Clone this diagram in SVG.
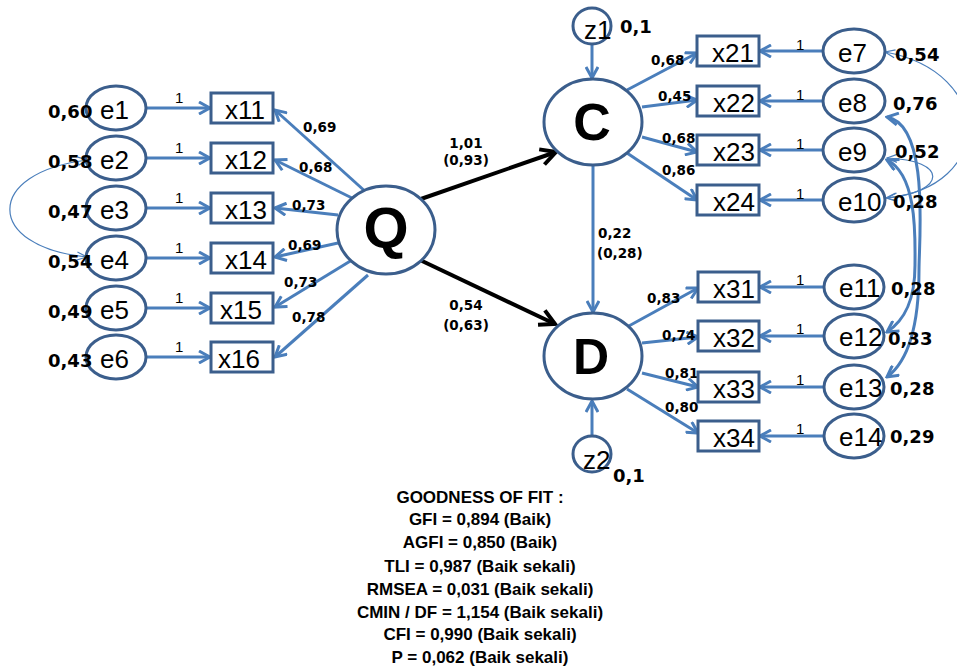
<svg xmlns="http://www.w3.org/2000/svg" width="957" height="667" viewBox="0 0 957 667">
<style>
.bg{fill:#fff}
.ell{fill:#fff;stroke:#3B5E8C;stroke-width:3}
.box{fill:#fff;stroke:#3B5E8C;stroke-width:3}
.ln{fill:none;stroke:#4A7EBB;stroke-width:3}
.thin{fill:none;stroke:#4A7EBB;stroke-width:1.2}
.blk{fill:none;stroke:#000;stroke-width:4}
text{font-family:"Liberation Sans",Arial,sans-serif;fill:#000}
.nm{font-size:26px}
.one{font-size:15px}
.w{font-family:"DejaVu Sans",sans-serif;font-size:13.5px;font-weight:bold}
.v{font-family:"DejaVu Sans",sans-serif;font-size:18px;font-weight:bold}
.big{font-weight:bold;text-anchor:middle}
.gof{font-size:17px;font-weight:bold;text-anchor:middle}
</style>
<defs>
<marker id="ab" viewBox="0 0 14 14" markerWidth="14" markerHeight="14" refX="12" refY="7" orient="auto-start-reverse" markerUnits="userSpaceOnUse"><path d="M1,1 L12,7 L1,13" fill="none" stroke="#4A7EBB" stroke-width="3"/></marker>
<marker id="at" viewBox="0 0 12 10" markerWidth="12" markerHeight="10" refX="11" refY="5" orient="auto-start-reverse" markerUnits="userSpaceOnUse"><path d="M1,1 L11,5 L1,9" fill="none" stroke="#4A7EBB" stroke-width="1.2"/></marker>
<marker id="ak" viewBox="0 0 20 20" markerWidth="20" markerHeight="20" refX="17" refY="10" orient="auto" markerUnits="userSpaceOnUse"><path d="M2,2 L17,10 L2,18" fill="none" stroke="#000" stroke-width="4"/></marker>
</defs>
<rect class="bg" x="0" y="0" width="957" height="667"/>

<g id="connectors">
<path class="ln" marker-end="url(#ab)" d="M146,108 H210"/>
<path class="ln" marker-end="url(#ab)" d="M146,158 H210"/>
<path class="ln" marker-end="url(#ab)" d="M146,208 H210"/>
<path class="ln" marker-end="url(#ab)" d="M146,258 H210"/>
<path class="ln" marker-end="url(#ab)" d="M146,308 H210"/>
<path class="ln" marker-end="url(#ab)" d="M146,357 H210"/>
<path class="ln" marker-end="url(#ab)" d="M367,193 L275,110"/>
<path class="ln" marker-end="url(#ab)" d="M352,198 L275,160"/>
<path class="ln" marker-end="url(#ab)" d="M338,215 L275,208"/>
<path class="ln" marker-end="url(#ab)" d="M338,243 L275,257"/>
<path class="ln" marker-end="url(#ab)" d="M352,260 L275,307"/>
<path class="ln" marker-end="url(#ab)" d="M368,275 L275,357"/>
<path class="blk" marker-end="url(#ak)" d="M418,200 L556,152"/>
<path class="blk" marker-end="url(#ak)" d="M420,260 L555,324"/>
<path class="ln" marker-end="url(#ab)" d="M593,165 V312"/>
<path class="ln" marker-end="url(#ab)" d="M592,44 V78"/>
<path class="ln" marker-end="url(#ab)" d="M592,436 V401"/>
<path class="ln" marker-end="url(#ab)" d="M627,90 L697,53"/>
<path class="ln" marker-end="url(#ab)" d="M642,107 L697,100"/>
<path class="ln" marker-end="url(#ab)" d="M642,137 L697,152"/>
<path class="ln" marker-end="url(#ab)" d="M627,153 L697,200"/>
<path class="ln" marker-end="url(#ab)" d="M627,327 L698,288"/>
<path class="ln" marker-end="url(#ab)" d="M642,343 L698,337"/>
<path class="ln" marker-end="url(#ab)" d="M642,373 L698,387"/>
<path class="ln" marker-end="url(#ab)" d="M627,389 L698,433"/>
<path class="ln" marker-end="url(#ab)" d="M823,51 H760"/>
<path class="ln" marker-end="url(#ab)" d="M823,101 H760"/>
<path class="ln" marker-end="url(#ab)" d="M823,150 H760"/>
<path class="ln" marker-end="url(#ab)" d="M823,200 H760"/>
<path class="ln" marker-end="url(#ab)" d="M824,287 H760"/>
<path class="ln" marker-end="url(#ab)" d="M824,336 H760"/>
<path class="ln" marker-end="url(#ab)" d="M824,387 H760"/>
<path class="ln" marker-end="url(#ab)" d="M824,436 H760"/>
<path class="thin" marker-start="url(#at)" marker-end="url(#at)" d="M88,160 C-16,172 -16,247 87,257"/>
<path class="thin" marker-start="url(#at)" marker-end="url(#at)" d="M885,52 C995,72 995,188 886,198"/>
<path class="thin" marker-start="url(#at)" marker-end="url(#at)" d="M887,158 C948,160 948,192 887,198"/>
<path class="ln" marker-start="url(#ab)" marker-end="url(#ab)" d="M887,117 C930,125 919,240 919,270 C919,320 910,360 887,377"/>
<path class="ln" marker-start="url(#ab)" marker-end="url(#ab)" d="M887,160 C918,175 915,240 915,265 C915,300 905,320 887,332"/>
</g>

<g id="e1"><ellipse class="ell" cx="116" cy="108" rx="30" ry="22"/><text class="nm" x="100" y="119">e1</text><text class="v" x="48" y="118">0,60</text></g>
<g id="e2"><ellipse class="ell" cx="116" cy="158" rx="30" ry="22"/><text class="nm" x="100" y="169">e2</text><text class="v" x="48" y="168">0,58</text></g>
<g id="e3"><ellipse class="ell" cx="116" cy="208" rx="30" ry="22"/><text class="nm" x="100" y="219">e3</text><text class="v" x="48" y="218">0,47</text></g>
<g id="e4"><ellipse class="ell" cx="116" cy="258" rx="30" ry="22"/><text class="nm" x="100" y="269">e4</text><text class="v" x="48" y="268">0,54</text></g>
<g id="e5"><ellipse class="ell" cx="116" cy="308" rx="30" ry="22"/><text class="nm" x="100" y="319">e5</text><text class="v" x="48" y="318">0,49</text></g>
<g id="e6"><ellipse class="ell" cx="116" cy="357" rx="30" ry="22"/><text class="nm" x="100" y="368">e6</text><text class="v" x="48" y="367">0,43</text></g>

<g id="ones">
<text class="one" x="175" y="103">1</text><text class="one" x="175" y="153">1</text><text class="one" x="175" y="203">1</text>
<text class="one" x="175" y="253">1</text><text class="one" x="175" y="303">1</text><text class="one" x="175" y="352">1</text>
<text class="one" x="796" y="50">1</text><text class="one" x="796" y="100">1</text><text class="one" x="796" y="149">1</text><text class="one" x="796" y="199">1</text>
<text class="one" x="796" y="285">1</text><text class="one" x="796" y="334">1</text><text class="one" x="796" y="385">1</text><text class="one" x="796" y="434">1</text>
</g>

<g id="x11"><rect class="box" x="211" y="93" width="62" height="30"/><text class="nm" x="225" y="119">x11</text></g>
<g id="x12"><rect class="box" x="211" y="143" width="62" height="30"/><text class="nm" x="225" y="169">x12</text></g>
<g id="x13"><rect class="box" x="211" y="193" width="62" height="30"/><text class="nm" x="225" y="219">x13</text></g>
<g id="x14"><rect class="box" x="211" y="243" width="62" height="30"/><text class="nm" x="225" y="269">x14</text></g>
<g id="x15"><rect class="box" x="211" y="293" width="62" height="30"/><text class="nm" x="220" y="319">x15</text></g>
<g id="x16"><rect class="box" x="211" y="342" width="62" height="30"/><text class="nm" x="218" y="368">x16</text></g>

<g id="wQ">
<text class="w" x="303" y="132">0,69</text>
<text class="w" x="299" y="172">0,68</text>
<text class="w" x="292" y="210">0,73</text>
<text class="w" x="288" y="250">0,69</text>
<text class="w" x="284" y="287">0,73</text>
<text class="w" x="292" y="322">0,78</text>
</g>

<g id="Q"><ellipse class="ell" cx="386" cy="230" rx="49" ry="44"/><text class="big" x="386" y="248" font-size="58">Q</text></g>
<g id="C"><ellipse class="ell" cx="593" cy="122" rx="49" ry="43"/><text class="big" x="592" y="140" font-size="52">C</text></g>
<g id="D"><ellipse class="ell" cx="593" cy="356" rx="49" ry="43"/><text class="big" x="591" y="374" font-size="50">D</text></g>
<g id="z1"><ellipse class="ell" cx="592" cy="26" rx="19" ry="18"/><text class="nm" x="584" y="39">z1</text><text class="v" x="620" y="33">0,1</text></g>
<g id="z2"><ellipse class="ell" cx="592" cy="454" rx="19" ry="18"/><text class="nm" x="583" y="469">z2</text><text class="v" x="613" y="482">0,1</text></g>

<g id="paths">
<text class="w" x="466" y="148" text-anchor="middle">1,01</text>
<text class="w" x="466" y="165" text-anchor="middle">(0,93)</text>
<text class="w" x="466" y="310" text-anchor="middle">0,54</text>
<text class="w" x="466" y="330" text-anchor="middle">(0,63)</text>
<text class="w" x="598" y="238">0,22</text>
<text class="w" x="597" y="258">(0,28)</text>
</g>

<g id="wC">
<text class="w" x="651" y="65">0,68</text>
<text class="w" x="658" y="101">0,45</text>
<text class="w" x="662" y="143">0,68</text>
<text class="w" x="662" y="175">0,86</text>
</g>
<g id="wD">
<text class="w" x="647" y="303">0,83</text>
<text class="w" x="662" y="340">0,74</text>
<text class="w" x="665" y="378">0,81</text>
<text class="w" x="665" y="412">0,80</text>
</g>

<g id="x21"><rect class="box" x="697" y="36" width="62" height="30"/><text class="nm" x="712" y="62">x21</text></g>
<g id="x22"><rect class="box" x="697" y="86" width="62" height="30"/><text class="nm" x="713" y="112">x22</text></g>
<g id="x23"><rect class="box" x="697" y="135" width="62" height="30"/><text class="nm" x="713" y="161">x23</text></g>
<g id="x24"><rect class="box" x="697" y="185" width="62" height="30"/><text class="nm" x="713" y="211">x24</text></g>
<g id="x31"><rect class="box" x="698" y="272" width="61" height="30"/><text class="nm" x="713" y="298">x31</text></g>
<g id="x32"><rect class="box" x="698" y="321" width="61" height="30"/><text class="nm" x="713" y="347">x32</text></g>
<g id="x33"><rect class="box" x="698" y="372" width="61" height="30"/><text class="nm" x="713" y="398">x33</text></g>
<g id="x34"><rect class="box" x="698" y="421" width="61" height="30"/><text class="nm" x="713" y="447">x34</text></g>

<g id="e7"><ellipse class="ell" cx="854" cy="51" rx="31" ry="22"/><text class="nm" x="838" y="62">e7</text><text class="v" x="895" y="61">0,54</text></g>
<g id="e8"><ellipse class="ell" cx="854" cy="101" rx="31" ry="22"/><text class="nm" x="838" y="112">e8</text><text class="v" x="893" y="110">0,76</text></g>
<g id="e9"><ellipse class="ell" cx="854" cy="150" rx="31" ry="22"/><text class="nm" x="838" y="161">e9</text><text class="v" x="895" y="158">0,52</text></g>
<g id="e10"><ellipse class="ell" cx="854" cy="200" rx="31" ry="22"/><text class="nm" x="838" y="211">e10</text><text class="v" x="893" y="208">0,28</text></g>
<g id="e11"><ellipse class="ell" cx="854" cy="287" rx="30" ry="22"/><text class="nm" x="839" y="297">e11</text><text class="v" x="891" y="295">0,28</text></g>
<g id="e12"><ellipse class="ell" cx="854" cy="336" rx="30" ry="22"/><text class="nm" x="839" y="346">e12</text><text class="v" x="888" y="345">0,33</text></g>
<g id="e13"><ellipse class="ell" cx="854" cy="387" rx="30" ry="22"/><text class="nm" x="839" y="397">e13</text><text class="v" x="890" y="395">0,28</text></g>
<g id="e14"><ellipse class="ell" cx="854" cy="436" rx="30" ry="22"/><text class="nm" x="839" y="446">e14</text><text class="v" x="890" y="443">0,29</text></g>

<g id="gof">
<text class="gof" x="480" y="503">GOODNESS OF FIT :</text>
<text class="gof" x="480" y="525">GFI = 0,894 (Baik)</text>
<text class="gof" x="480" y="548">AGFI = 0,850 (Baik)</text>
<text class="gof" x="480" y="572">TLI = 0,987 (Baik sekali)</text>
<text class="gof" x="480" y="595">RMSEA = 0,031 (Baik sekali)</text>
<text class="gof" x="480" y="618">CMIN / DF = 1,154 (Baik sekali)</text>
<text class="gof" x="480" y="640">CFI = 0,990 (Baik sekali)</text>
<text class="gof" x="480" y="663">P = 0,062 (Baik sekali)</text>
</g>
</svg>
